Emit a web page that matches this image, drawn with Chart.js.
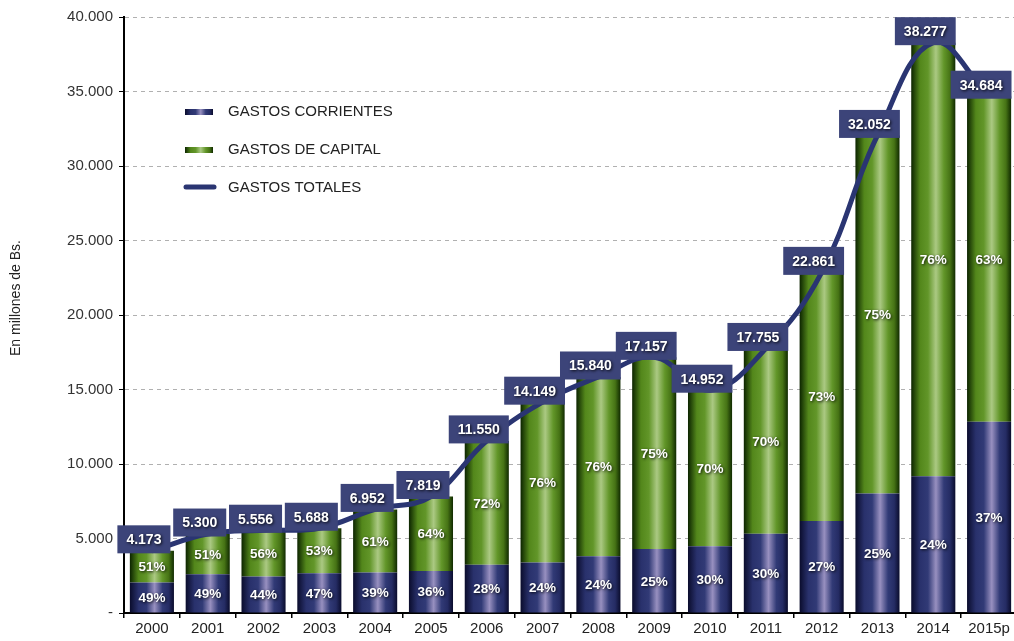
<!DOCTYPE html>
<html>
<head>
<meta charset="utf-8">
<script src="https://cdn.jsdelivr.net/npm/chart.js@4.4.0/dist/chart.umd.min.js"></script>
<style>
  html, body { margin: 0; padding: 0; background: #fff; overflow: hidden; }
  #contenedor { width: 1018px; height: 641px; }
</style>
</head>
<body>
<div id="contenedor"><canvas id="grafico"></canvas></div>
<script>
var anios = ['2000', '2001', '2002', '2003', '2004', '2005', '2006', '2007', '2008', '2009', '2010', '2011', '2012', '2013', '2014', '2015p'];
var gastosTotales = [4173, 5300, 5556, 5688, 6952, 7819, 11550, 14149, 15840, 17157, 14952, 17755, 22861, 32052, 38277, 34684];
var gastosCorrientes = [2045, 2597, 2445, 2673, 2711, 2815, 3234, 3396, 3802, 4289, 4486, 5327, 6172, 8013, 9186, 12833];
var gastosCapital = [2128, 2703, 3111, 3015, 4241, 5004, 8316, 10753, 12038, 12868, 10466, 12428, 16689, 24039, 29091, 21851];
var pctCorrientes = ['49%', '49%', '44%', '47%', '39%', '36%', '28%', '24%', '24%', '25%', '30%', '30%', '27%', '25%', '24%', '37%'];
var pctCapital = ['51%', '51%', '56%', '53%', '61%', '64%', '72%', '76%', '76%', '75%', '70%', '70%', '73%', '75%', '76%', '63%'];

var coloresAzul = ['#0a0c2c', '#29316c', '#313a76', '#9890c0', '#313a76', '#252c64', '#0a0c2c'];
var coloresVerde = ['#0c2400', '#53871b', '#629629', '#abc983', '#629629', '#467315', '#102a00'];
var colorLinea = '#2a3572';
var colorCaja = '#3c4479';
var fuente = '"Liberation Sans", Arial, sans-serif';
var ANCHO_BARRA = 0.79;

function crearDegradado(ctx, x0, x1, colores) {
  var g = ctx.createLinearGradient(x0, 0, x1, 0);
  var pos = [0, 0.2, 0.38, 0.56, 0.74, 0.88, 1];
  for (var i = 0; i < colores.length; i++) g.addColorStop(pos[i], colores[i]);
  return g;
}

function degradadoBarra(colores) {
  return function (c) {
    var chart = c.chart;
    var area = chart.chartArea;
    if (!area || !chart.scales.x) return colores[2];
    var x = chart.scales.x.getPixelForValue(c.dataIndex);
    var w = (area.right - area.left) / anios.length * ANCHO_BARRA;
    return crearDegradado(chart.ctx, x - w / 2, x + w / 2, colores);
  };
}

function formatoMiles(v) {
  return String(v).replace(/\B(?=(\d{3})+(?!\d))/g, '.');
}

// etiquetas de porcentaje y cajas con el total
var pluginEtiquetas = {
  id: 'etiquetas',
  afterDatasetsDraw: function (chart) {
    var ctx = chart.ctx;
    var metaTot = chart.getDatasetMeta(0);
    var metaCorr = chart.getDatasetMeta(1);
    var metaCap = chart.getDatasetMeta(2);
    ctx.save();
    ctx.textAlign = 'center';
    ctx.textBaseline = 'middle';
    ctx.shadowColor = 'rgba(0,0,0,0.9)';
    ctx.shadowBlur = 3;
    ctx.shadowOffsetX = 1;
    ctx.shadowOffsetY = 1;
    ctx.fillStyle = '#ffffff';
    ctx.font = 'bold 13.5px ' + fuente;
    metaCorr.data.forEach(function (bar, i) {
      ctx.fillText(pctCorrientes[i], bar.x, (bar.y + bar.base) / 2 + 1);
    });
    metaCap.data.forEach(function (bar, i) {
      ctx.fillText(pctCapital[i], bar.x, (bar.y + bar.base) / 2 + 1);
    });

    // las cajas quedan algo corridas a la izquierda del punto
    ctx.font = 'bold 14px ' + fuente;
    metaTot.data.forEach(function (pt, i) {
      var txt = formatoMiles(gastosTotales[i]);
      var w = ctx.measureText(txt).width + 18;
      var h = 28;
      var cx = pt.x - 8;
      var cy = pt.y - 11.5;
      ctx.save();
      ctx.shadowColor = 'rgba(0,0,0,0)';
      ctx.fillStyle = colorCaja;
      ctx.fillRect(cx - w / 2, cy - h / 2, w, h);
      ctx.restore();
      ctx.fillText(txt, cx, cy + 1);
    });
    ctx.restore();
  }
};

// leyenda y titulo del eje dibujados a mano
var pluginLeyenda = {
  id: 'leyendaInterna',
  afterDraw: function (chart) {
    var ctx = chart.ctx;
    ctx.save();
    ctx.fillStyle = crearDegradado(ctx, 185, 213, coloresAzul);
    ctx.fillRect(185, 109, 28, 6);
    ctx.fillStyle = crearDegradado(ctx, 185, 213, coloresVerde);
    ctx.fillRect(185, 147, 28, 6);
    ctx.strokeStyle = colorLinea;
    ctx.lineWidth = 5;
    ctx.lineCap = 'round';
    ctx.beginPath();
    ctx.moveTo(186, 187);
    ctx.lineTo(214, 187);
    ctx.stroke();
    ctx.fillStyle = '#222';
    ctx.font = '15px ' + fuente;
    ctx.textBaseline = 'middle';
    ctx.fillText('GASTOS CORRIENTES', 228, 112);
    ctx.fillText('GASTOS DE CAPITAL', 228, 150);
    ctx.fillText('GASTOS TOTALES', 228, 188);

    ctx.translate(16, 298);
    ctx.rotate(-Math.PI / 2);
    ctx.textAlign = 'center';
    ctx.font = '14px ' + fuente;
    ctx.fillText('En millones de Bs.', 0, 0);
    ctx.restore();
  }
};

var data = {
  labels: anios,
  datasets: [{
    type: 'line',
    label: 'GASTOS TOTALES',
    data: gastosTotales,
    borderColor: colorLinea,
    borderWidth: 5,
    tension: 0.4,
    pointRadius: 0,
    fill: false,
    stack: 'linea',
    order: 0
  }, {
    type: 'bar',
    label: 'GASTOS CORRIENTES',
    data: gastosCorrientes,
    backgroundColor: degradadoBarra(coloresAzul),
    stack: 'barras',
    barPercentage: ANCHO_BARRA,
    categoryPercentage: 1,
    order: 1
  }, {
    type: 'bar',
    label: 'GASTOS DE CAPITAL',
    data: gastosCapital,
    backgroundColor: degradadoBarra(coloresVerde),
    stack: 'barras',
    barPercentage: ANCHO_BARRA,
    categoryPercentage: 1,
    order: 1
  }]
};

var options = {
  responsive: true,
  maintainAspectRatio: false,
  animation: false,
  devicePixelRatio: 1,
  layout: { padding: { top: 17, right: 1, left: 0, bottom: 0 } },
  plugins: {
    legend: { display: false },
    tooltip: { enabled: false }
  },
  scales: {
    x: {
      stacked: true,
      afterFit: function (s) { s.height = 28; },
      border: { display: true, color: '#000', width: 2 },
      grid: { display: true, offset: true, drawOnChartArea: false, tickLength: 5, color: '#000', lineWidth: 1.5 },
      ticks: { color: '#222', padding: 2, font: { size: 15, family: fuente } }
    },
    y: {
      stacked: true,
      min: 0,
      max: 40000,
      afterFit: function (s) { s.width = 124; },
      border: { display: true, color: '#000', width: 2, dash: [4, 4] },
      grid: { color: '#b0b0b0', tickLength: 5, tickColor: '#000', tickBorderDash: [] },
      ticks: {
        stepSize: 5000,
        color: '#333',
        padding: 6,
        font: { size: 15, family: fuente },
        callback: function (v) { return v === 0 ? '-' : formatoMiles(v); }
      }
    }
  }
};

var chart = new Chart(document.getElementById('grafico').getContext('2d'), {
  data: data,
  options: options,
  plugins: [pluginEtiquetas, pluginLeyenda]
});
</script>
</body>
</html>
